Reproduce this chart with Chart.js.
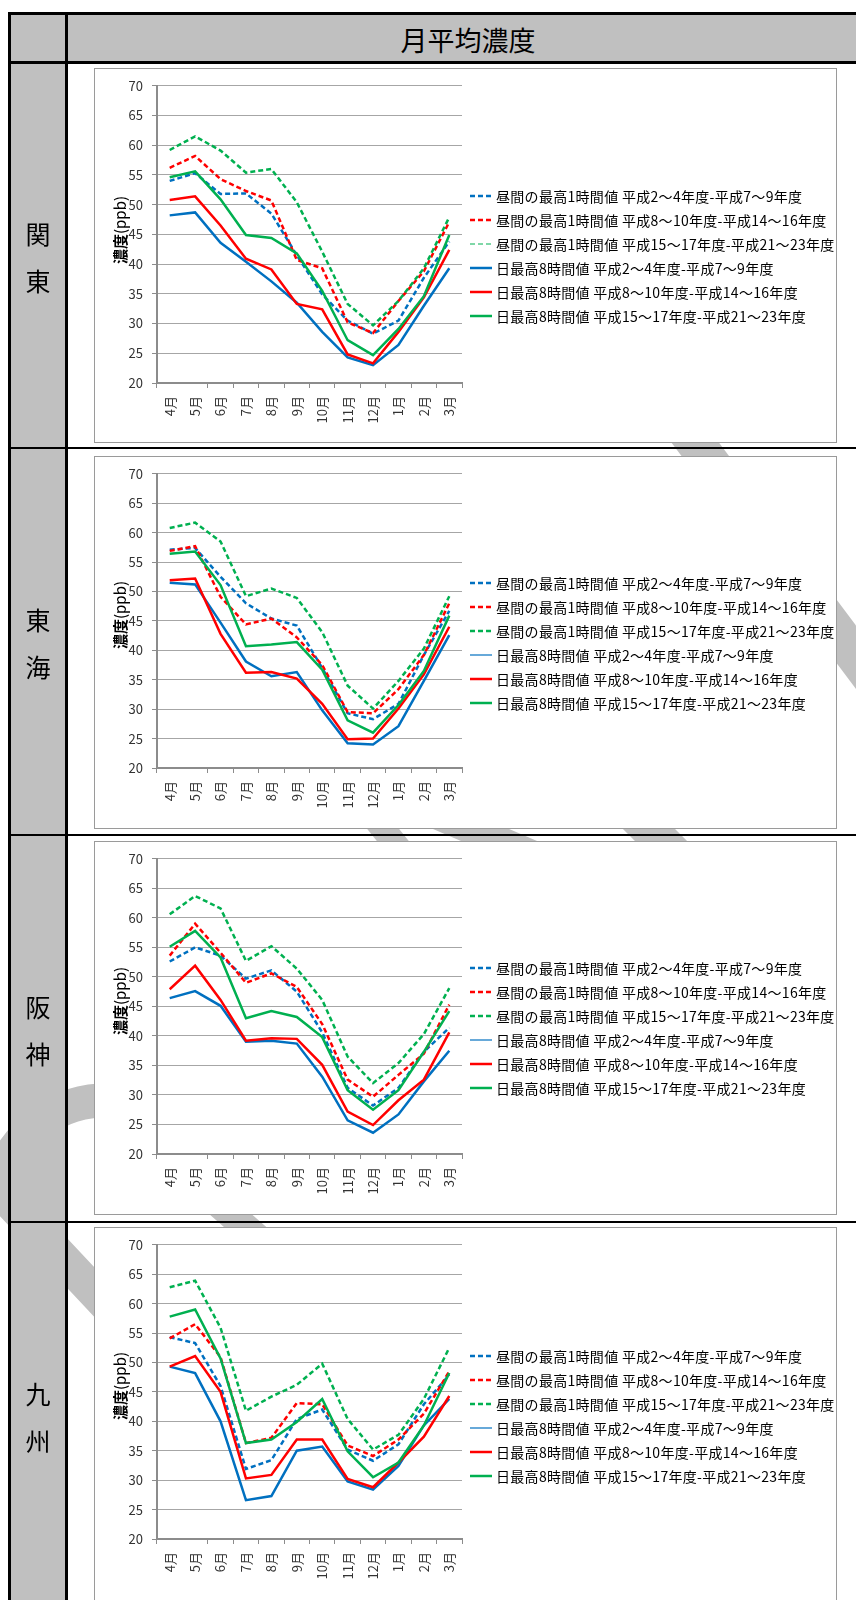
<!DOCTYPE html>
<html>
<head>
<meta charset="utf-8">
<script src="https://cdn.jsdelivr.net/npm/chart.js@4.4.0/dist/chart.umd.min.js"></script>
<style>
body { margin: 0; background: #fff; font-family: "Noto Sans CJK JP", "Noto Sans", sans-serif; }
#page { position: relative; width: 856px; height: 1610px; overflow: hidden; background: #fff; }
.abs { position: absolute; }
.blk { position: absolute; background: #000; z-index: 3; }
.gray { position: absolute; background: #c0c0c0; z-index: 1; }
.box { position: absolute; left: 94px; width: 743px; box-sizing: border-box; border: 1px solid #9a9a9a; background: #fff; z-index: 2; }
.box canvas { position: absolute; left: 0; top: 0; }
.legend { position: absolute; left: 375px; font-size: 14px; color: #000; letter-spacing: 0.3px; }
.legend div { height: 24px; display: flex; align-items: center; white-space: nowrap; }
.legend svg { margin-right: 2px; }
.ytitle { position: absolute; font-size: 15px; color: #000; white-space: nowrap; transform: translate(-50%, -50%) rotate(-90deg); }
.region { position: absolute; left: 38px; font-size: 25px; color: #000; transform: translate(-50%, -50%); z-index: 4; }
#stripes { position: absolute; left: 0; top: 0; z-index: 0; }
</style>
</head>
<body>
<div id="page">
<svg id="stripes" width="856" height="1610">
  <g stroke="#c0c0c0" fill="none" stroke-linecap="butt">
    <line x1="560" y1="262" x2="900" y2="716" stroke-width="38"/>
    <line x1="360" y1="800" x2="416" y2="870" stroke-width="25"/>
    <line x1="380" y1="790" x2="590" y2="880" stroke-width="30"/>
    <line x1="610" y1="790" x2="700" y2="880" stroke-width="37"/>
    <path d="M 300 1100 L 110 1100 Q 30 1100 -5 1186 L 200 1405" stroke-width="34"/>
    <line x1="180" y1="1170" x2="300" y2="1275" stroke-width="28"/>
  </g>
</svg>
<div class="gray" style="left:11px;top:15px;width:845px;height:46px;"></div>
<div class="gray" style="left:11px;top:15px;width:54px;height:1595px;"></div>
<div class="abs" style="left:468px;top:39px;transform:translate(-50%,-50%);font-size:27px;z-index:4;white-space:nowrap;">月平均濃度</div>
<div class="blk" style="left:8px;top:12px;width:848px;height:3px;"></div>
<div class="blk" style="left:8px;top:12px;width:3px;height:1598px;"></div>
<div class="blk" style="left:65px;top:12px;width:3px;height:1598px;"></div>
<div class="blk" style="left:8px;top:61px;width:848px;height:3px;"></div>
<div class="blk" style="left:8px;top:447px;width:848px;height:2px;"></div>
<div class="blk" style="left:8px;top:834px;width:848px;height:2px;"></div>
<div class="blk" style="left:8px;top:1221px;width:848px;height:2px;"></div>
</div>

<script>
// categories and axis
var months = ['4月', '5月', '6月', '7月', '8月', '9月', '10月', '11月', '12月', '1月', '2月', '3月'];
var yTicks = [20, 25, 30, 35, 40, 45, 50, 55, 60, 65, 70];

var seriesNames = [
    '昼間の最高1時間値 平成2～4年度-平成7～9年度',
    '昼間の最高1時間値 平成8～10年度-平成14～16年度',
    '昼間の最高1時間値 平成15～17年度-平成21～23年度',
    '日最高8時間値 平成2～4年度-平成7～9年度',
    '日最高8時間値 平成8～10年度-平成14～16年度',
    '日最高8時間値 平成15～17年度-平成21～23年度'
];

// 関東
var kantoPeak1hEarly = [54.0, 55.3, 51.8, 51.9, 48.5, 41.5, 34.9, 30.5, 28.3, 30.5, 37.7, 43.8];
var kantoPeak1hMid = [56.2, 58.2, 54.3, 52.3, 50.7, 40.7, 39.3, 30.2, 28.4, 33.8, 38.8, 47.1];
var kantoPeak1hLate = [59.2, 61.5, 59.1, 55.4, 56.0, 50.4, 42.1, 33.3, 29.7, 33.8, 39.3, 47.9];
var kantoMax8hEarly = [48.2, 48.7, 43.6, 40.4, 37.1, 33.5, 28.6, 24.3, 23.0, 26.4, 33.0, 39.3];
var kantoMax8hMid = [50.8, 51.4, 46.5, 40.9, 39.1, 33.3, 32.4, 24.8, 23.3, 28.6, 34.4, 42.4];
var kantoMax8hLate = [54.6, 55.6, 50.9, 44.9, 44.4, 41.8, 35.5, 27.2, 24.7, 29.1, 34.6, 44.9];

// 東海
var tokaiPeak1hEarly = [57.1, 57.4, 52.5, 48.0, 45.4, 44.2, 37.0, 29.3, 28.3, 30.9, 39.2, 46.7];
var tokaiPeak1hMid = [56.9, 57.7, 49.1, 44.4, 45.4, 42.2, 37.5, 29.5, 29.3, 33.4, 39.2, 48.0];
var tokaiPeak1hLate = [60.8, 61.7, 58.5, 49.2, 50.5, 48.9, 43.1, 34.0, 30.1, 34.8, 40.3, 49.2];
var tokaiMax8hEarly = [51.5, 51.2, 44.7, 38.1, 35.6, 36.3, 29.8, 24.2, 24.0, 27.1, 34.8, 42.6];
var tokaiMax8hMid = [51.9, 52.2, 42.8, 36.2, 36.3, 35.2, 30.9, 24.9, 25.0, 30.1, 35.9, 44.0];
var tokaiMax8hLate = [56.4, 56.8, 51.1, 40.7, 41.0, 41.4, 36.7, 28.1, 26.0, 30.7, 36.5, 45.9];

// 阪神
var hanshinPeak1hEarly = [52.6, 55.0, 53.6, 49.7, 51.1, 47.5, 40.6, 31.2, 28.2, 31.2, 37.3, 41.4];
var hanshinPeak1hMid = [53.6, 59.0, 54.1, 49.0, 50.6, 48.3, 42.0, 32.6, 29.7, 33.4, 37.0, 45.3];
var hanshinPeak1hLate = [60.6, 63.7, 61.6, 52.7, 55.2, 51.4, 46.1, 36.5, 32.0, 35.4, 40.3, 48.1];
var hanshinMax8hEarly = [46.4, 47.6, 45.1, 39.0, 39.2, 38.7, 33.1, 25.7, 23.6, 26.7, 32.3, 37.5];
var hanshinMax8hMid = [47.9, 51.9, 46.1, 39.2, 39.6, 39.5, 35.1, 27.2, 24.9, 29.1, 32.6, 40.6];
var hanshinMax8hLate = [55.1, 57.8, 53.3, 43.0, 44.2, 43.2, 39.8, 30.8, 27.5, 30.8, 37.3, 44.2];

// 九州
var kyushuPeak1hEarly = [54.3, 53.3, 46.0, 31.9, 33.4, 40.4, 42.0, 35.2, 33.3, 36.1, 42.9, 47.9];
var kyushuPeak1hMid = [54.1, 56.5, 50.9, 36.3, 37.2, 43.1, 42.9, 35.9, 34.1, 36.9, 41.3, 48.5];
var kyushuPeak1hLate = [62.8, 63.9, 55.9, 41.8, 44.2, 46.2, 49.8, 40.4, 35.2, 37.7, 43.8, 52.5];
var kyushuMax8hEarly = [49.3, 48.2, 40.0, 26.6, 27.3, 35.0, 35.7, 29.8, 28.4, 32.4, 39.3, 43.8];
var kyushuMax8hMid = [49.3, 51.1, 45.0, 30.3, 30.9, 36.9, 36.9, 30.2, 28.8, 33.0, 37.4, 44.3];
var kyushuMax8hLate = [57.8, 59.0, 50.7, 36.3, 36.9, 39.9, 43.8, 34.9, 30.5, 33.0, 39.3, 48.2];

var colors = ['#0070C0', '#FF0000', '#00B050', '#0070C0', '#FF0000', '#00B050'];
var dashes = [[5, 3], [5, 3], [5, 3], [], [], []];

var rows = [
    { name: '関東', top: 68, bottom: 443, plotTop: 82, thin: 2,
      data: [kantoPeak1hEarly, kantoPeak1hMid, kantoPeak1hLate, kantoMax8hEarly, kantoMax8hMid, kantoMax8hLate] },
    { name: '東海', top: 456, bottom: 829, plotTop: 467, thin: 3,
      data: [tokaiPeak1hEarly, tokaiPeak1hMid, tokaiPeak1hLate, tokaiMax8hEarly, tokaiMax8hMid, tokaiMax8hLate] },
    { name: '阪神', top: 841, bottom: 1215, plotTop: 853, thin: 3,
      data: [hanshinPeak1hEarly, hanshinPeak1hMid, hanshinPeak1hLate, hanshinMax8hEarly, hanshinMax8hMid, hanshinMax8hLate] },
    { name: '九州', top: 1227, bottom: 1605, plotTop: 1238, thin: 3,
      data: [kyushuPeak1hEarly, kyushuPeak1hMid, kyushuPeak1hLate, kyushuMax8hEarly, kyushuMax8hMid, kyushuMax8hLate] }
];
var rowLines = [[64, 447], [449, 834], [836, 1221], [1223, 1608]];

var PLOT_H = 301;
var axisFont = { family: '"Noto Sans CJK JP", "Noto Sans", sans-serif', size: 13 };

function buildRow(row, idx) {
    var page = document.getElementById('page');

    // region name, one character per line
    var mid = (rowLines[idx][0] + rowLines[idx][1]) / 2 + 1;
    for (var c = 0; c < row.name.length; c++) {
        var ch = document.createElement('div');
        ch.className = 'region';
        ch.style.top = (mid + (c === 0 ? -23.5 : 23.5)) + 'px';
        ch.textContent = row.name[c];
        page.appendChild(ch);
    }

    var box = document.createElement('div');
    box.className = 'box';
    box.style.top = row.top + 'px';
    box.style.height = (row.bottom - row.top) + 'px';
    page.appendChild(box);

    var w = 741, h = row.bottom - row.top - 2;
    var padTop = row.plotTop - row.top - 1;
    var canvas = document.createElement('canvas');
    canvas.width = w; canvas.height = h;
    canvas.style.width = w + 'px'; canvas.style.height = h + 'px';
    box.appendChild(canvas);

    // axis title
    var t = document.createElement('div');
    t.className = 'ytitle';
    t.style.left = '24px';
    t.style.top = (padTop + PLOT_H / 2 - 3) + 'px';
    t.innerHTML = '<b>濃度</b>(ppb)';
    box.appendChild(t);

    // legend
    var lg = document.createElement('div');
    lg.className = 'legend';
    lg.style.top = (h / 2 - 72) + 'px';
    for (var i = 0; i < seriesNames.length; i++) {
        var lw = (i === row.thin) ? 1.2 : 2.5;
        var dash = dashes[i].length ? ' stroke-dasharray="' + dashes[i].join(' ') + '"' : '';
        var item = document.createElement('div');
        item.innerHTML = '<svg width="24" height="8"><line x1="0" y1="4" x2="22" y2="4" stroke="' + colors[i] +
            '" stroke-width="' + lw + '"' + dash + '/></svg><span>' + seriesNames[i] + '</span>';
        lg.appendChild(item);
    }
    box.appendChild(lg);

    var datasets = [];
    for (var k = 0; k < row.data.length; k++) {
        datasets.push({
            label: seriesNames[k],
            data: row.data[k],
            borderColor: colors[k],
            backgroundColor: colors[k],
            borderWidth: 2.5,
            borderDash: dashes[k],
            pointRadius: 0,
            tension: 0,
            fill: false,
            order: 6 - k
        });
    }

    new Chart(canvas, {
        type: 'line',
        data: { labels: months, datasets: datasets },
        options: {
            responsive: false,
            animation: false,
            layout: { padding: { top: padTop, right: 374, left: 0, bottom: 0 } },
            plugins: { legend: { display: false }, tooltip: { enabled: false } },
            scales: {
                x: {
                    offset: true,
                    grid: {
                        offset: true,
                        drawOnChartArea: false,
                        tickLength: 5,
                        tickColor: function (ctx) { return ctx.index === 1 ? 'rgba(0,0,0,0)' : '#8c8c8c'; }
                    },
                    border: { color: '#8c8c8c', width: 2 },
                    ticks: { minRotation: 90, maxRotation: 90, padding: 8, font: axisFont, color: '#333' },
                    afterFit: function (scale) { scale.height = h - padTop - PLOT_H; }
                },
                y: {
                    min: yTicks[0],
                    max: yTicks[yTicks.length - 1],
                    ticks: { stepSize: yTicks[1] - yTicks[0], padding: 9, font: axisFont, color: '#333' },
                    grid: { color: '#a6a6a6', lineWidth: 1, tickLength: 5, tickColor: '#8c8c8c' },
                    border: { color: '#8c8c8c', width: 2 },
                    afterFit: function (scale) { scale.width = 62; }
                }
            }
        }
    });
}

rows.forEach(buildRow);
</script>
</body>
</html>
